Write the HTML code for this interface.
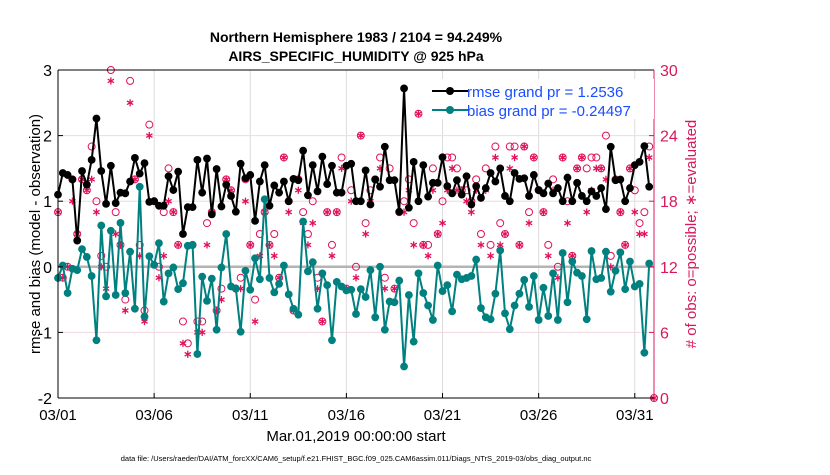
<!DOCTYPE html>
<html><head><meta charset="utf-8"><style>
body{margin:0;background:#fff;width:830px;height:470px;overflow:hidden}
svg text{font-family:"Liberation Sans",sans-serif}
</style></head><body>
<svg id="chart" width="830" height="470" xmlns="http://www.w3.org/2000/svg">
<text x="356" y="42" font-size="14" font-weight="bold" text-anchor="middle">Northern Hemisphere 1983 / 2104 = 94.249%</text>
<text x="356" y="61" font-size="14" font-weight="bold" text-anchor="middle">AIRS_SPECIFIC_HUMIDITY @ 925 hPa</text>
<g id="grid"></g><g id="marks"></g><g id="axes"></g>
<text transform="translate(40,234) rotate(-90)" font-size="15" text-anchor="middle">rmse and bias (model - observation)</text>
<text transform="translate(696,234) rotate(-90)" font-size="15" fill="#d8185c" text-anchor="middle"># of obs: o=possible; ∗=evaluated</text>
<text x="356" y="441" font-size="15" text-anchor="middle">Mar.01,2019 00:00:00 start</text>
<text x="356" y="461" font-size="7.5" text-anchor="middle">data file: /Users/raeder/DAI/ATM_forcXX/CAM6_setup/f.e21.FHIST_BGC.f09_025.CAM6assim.011/Diags_NTrS_2019-03/obs_diag_output.nc</text>
<g>
<rect x="428" y="79" width="226" height="40" fill="#fff"/>
<line x1="432" y1="91" x2="468" y2="91" stroke="#000" stroke-width="2"/><circle cx="450" cy="91" r="4" fill="#000"/>
<text x="467" y="97" font-size="15" fill="#1a4dff">rmse grand pr = 1.2536</text>
<line x1="432" y1="110" x2="468" y2="110" stroke="#008080" stroke-width="2"/><circle cx="450" cy="110" r="4" fill="#008080"/>
<text x="467" y="116" font-size="15" fill="#1a4dff">bias grand pr = -0.24497</text>
</g>
</svg>
<script>
const rmse=[1.1,1.43,1.4,1.33,0.4,1.46,1.25,1.63,2.26,1.46,0.96,1.54,0.97,1.13,1.12,1.3,1.66,1.42,1.58,0.99,1.0,0.93,0.93,1.38,1.17,1.45,0.5,0.91,0.91,1.63,1.13,1.65,0.8,1.49,0.92,1.25,1.08,0.84,1.57,1.35,
1.4,0.7,1.3,1.55,0.93,1.24,1.13,1.3,1.0,1.34,1.32,1.77,1.09,1.55,1.15,1.68,1.26,1.54,1.13,1.13,1.54,1.57,1.0,1.0,1.47,0.95,1.33,1.22,1.83,1.32,1.32,0.84,2.72,0.9,1.6,1.0,1.55,1.07,1.28,1.28,1.67,1.23,
1.12,1.32,1.1,1.38,0.95,1.23,1.05,1.2,1.43,1.3,1.5,1.08,1.0,1.43,1.34,1.35,1.08,1.4,1.17,1.12,1.27,1.12,1.2,1.0,1.36,1.0,1.28,1.08,1.0,1.15,1.08,1.2,0.88,1.83,1.32,1.33,1.0,1.2,1.55,1.6,1.84,1.22];
const bias=[-0.17,0.02,-0.4,-0.03,-0.05,0.27,0.15,-0.14,-1.12,0.63,-0.45,0.55,-0.43,0.67,-0.4,0.23,-0.64,1.22,-0.76,0.16,0.03,0.36,-0.53,-0.1,-0.01,-0.34,-0.25,0.32,0.33,-1.33,-0.15,-0.52,-0.18,-0.96,-0.01,0.5,-0.3,-0.33,-0.99,-0.06,
-0.35,0.13,-0.19,1.03,-0.17,-0.39,-0.26,0.02,-0.42,-0.64,-0.73,0.69,-0.07,0.07,-0.64,-0.1,-0.28,-1.12,-0.23,-0.3,-0.36,-0.35,-0.72,-0.34,-0.46,-0.05,-0.77,0.0,-0.96,-0.53,-0.54,-0.21,-1.52,-0.43,-1.14,-0.1,-0.4,-0.59,-0.81,0.02,-0.37,-0.28,
-0.68,-0.12,-0.19,-0.17,-0.14,0.11,-0.63,-0.77,-0.8,-0.41,0.25,-0.71,-0.95,-0.59,-0.41,-0.2,-0.61,-0.14,-0.81,-0.32,-0.75,-0.1,-0.81,0.21,-0.54,0.08,-0.09,-0.14,-0.8,0.24,-0.19,-0.17,0.23,-0.38,-0.06,0.22,-0.34,0.08,-0.3,-0.26,-1.31,0.05];
const possible=[17,11,12,20,15,20,19,23,18,13,12,30,17,14,9,29,20,14,8,25,18,12,17,21,17,14,7,5,14,7,7,16,17,8,10,20,19,10,11,20,
14,9,15,17,14,15,11,22,18,8,20,17,15,18,11,7,17,14,17,22,10,19,12,24,16,19,20,22,11,21,10,17,18,20,16,26,14,14,21,15,18,22,
22,21,19,19,18,20,15,21,14,23,16,15,23,23,14,23,17,22,19,17,14,20,12,22,18,13,21,22,21,22,22,21,24,13,20,17,14,21,19,16,17,23,0];
const evaluated=[17,11,12,18,15,20,19,20,17,12,10,29,15,14,8,27,20,13,7,24,18,11,13,18,17,14,5,4,14,6,6,14,17,8,9,20,19,10,10,18,
14,7,13,17,14,13,11,22,17,8,19,16,14,16,10,7,17,13,17,21,10,18,11,24,15,18,20,21,10,20,10,17,17,19,14,26,14,13,19,15,16,19,
21,19,19,18,17,19,14,19,13,22,14,15,21,22,14,23,16,22,19,17,13,19,11,22,16,13,21,22,17,19,21,21,20,12,20,17,14,21,17,15,15,22,0];
const xTicks=["03/01","03/06","03/11","03/16","03/21","03/26","03/31"];
const yTicks=[-2,-1,0,1,2,3];
const rTicks=[0,6,12,18,24,30];
const NS="http://www.w3.org/2000/svg";
const L=58,R=654,T=70,B=398;
const xDay=d=>L+(R-L)*d/31;
const xi=i=>xDay(i*0.25);
const yL=v=>B-(B-T)*(v+2)/5;
const yR=c=>B-(B-T)*c/30;
function mk(tag,attrs,parent){const e=document.createElementNS(NS,tag);for(const k in attrs)e.setAttribute(k,attrs[k]);parent.appendChild(e);return e;}
const grid=document.getElementById('grid'),marks=document.getElementById('marks'),axes=document.getElementById('axes');
mk('rect',{x:L,y:T,width:R-L,height:B-T,fill:'#fff'},grid);
xTicks.forEach((t,k)=>{const x=xDay(k*5);
 const g=mk('line',{x1:x,y1:T,x2:x,y2:B,stroke:'#dcdcdc','stroke-width':1},grid);
 
 
 const tx=mk('text',{x:x,y:420,'font-size':15,'text-anchor':'middle'},axes);tx.textContent=t;
 
 
 mk('line',{x1:x,y1:B,x2:x,y2:B-5,stroke:'#000'},axes);
});
yTicks.forEach(v=>{const y=yL(v);
 if(v!==0&&v!==-2&&v!==3){const g=mk('line',{x1:L,y1:y,x2:R,y2:y,stroke:'#f0d8e0','stroke-width':1},grid);
 
 }
 const tx=mk('text',{x:L-6,y:y+6,'font-size':16,'text-anchor':'end'},axes);tx.textContent=v;
 
 
 mk('line',{x1:L,y1:y,x2:L+5,y2:y,stroke:'#000'},axes);
});
rTicks.forEach(c=>{const y=yR(c);
 const tx=mk('text',{x:R+6,y:y+6,'font-size':16,fill:'#d8185c'},axes);tx.textContent=c;
 
 
 mk('line',{x1:R,y1:y,x2:R-5,y2:y,stroke:'#d8185c'},axes);
});
const zl=mk('line',{x1:L,y1:yL(0),x2:R,y2:yL(0),stroke:'#b4b4b4','stroke-width':2.5},grid);


possible.forEach((c,i)=>{const x=(i<124)?xi(i):R;
 const m=mk('circle',{cx:x,cy:yR(c),r:3.5,fill:'none',stroke:'#e0105a','stroke-width':1},marks);
 
 
});
function star(x,y,s){let d='';for(let k=0;k<3;k++){const a=Math.PI/2+k*Math.PI/3;const dx=s*Math.cos(a),dy=s*Math.sin(a);d+=`M${x-dx},${y-dy}L${x+dx},${y+dy}`;}return d;}
evaluated.forEach((c,i)=>{const x=(i<124)?xi(i):R;
 const m=mk('path',{d:star(x,yR(c),3.6),stroke:'#e0105a','stroke-width':1.3,fill:'none'},marks);
 
 
});
function series(vals,color,name){
 const p=mk('polyline',{points:vals.map((v,i)=>xi(i)+','+yL(v)).join(' '),fill:'none',stroke:color,'stroke-width':2,'stroke-linejoin':'round'},marks);
 
 
 vals.forEach((v,i)=>{const c=mk('circle',{cx:xi(i),cy:yL(v),r:3.9,fill:color},marks);
  
  });
}
series(rmse,'#000','rmse');
series(bias,'#00807f','bias');
mk('line',{x1:L,y1:T,x2:L,y2:B,stroke:'#000'},axes);
mk('line',{x1:L,y1:T,x2:R,y2:T,stroke:'#000'},axes);
mk('line',{x1:L,y1:B,x2:R,y2:B,stroke:'#000'},axes);
mk('line',{x1:R,y1:T,x2:R,y2:B,stroke:'#d8185c'},axes);
</script>
</body></html>
